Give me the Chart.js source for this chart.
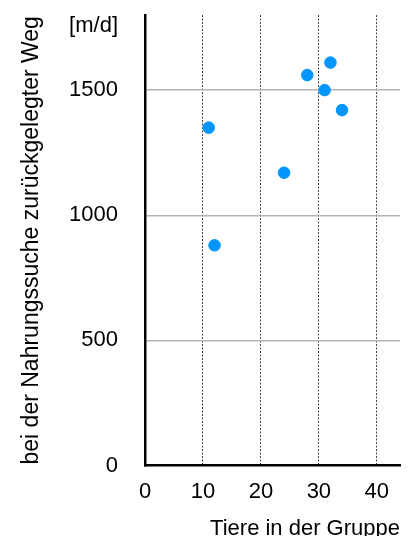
<!DOCTYPE html>
<html>
<head>
<meta charset="utf-8">
<script src="https://cdn.jsdelivr.net/npm/chart.js@4/dist/chart.umd.min.js"></script>
<style>
  html, body { margin: 0; padding: 0; background: #fff; }
  #wrap { width: 416px; height: 536px; }
</style>
</head>
<body>
<div id="wrap"><canvas id="chartWeg"></canvas></div>
<script>
const tiereInGruppe = [11, 12, 24, 28, 31, 32, 34];
const wegProTag = [1350, 880, 1170, 1560, 1500, 1610, 1420];
const xTicks = [0, 10, 20, 30, 40];
const yTicks = [0, 500, 1000, 1500];

const xTitle = 'Tiere in der Gruppe';
const yTitle = 'bei der Nahrungssuche zurückgelegter Weg';
const yUnit = '[m/d]';

const FONT = '"Liberation Sans", Arial, sans-serif';

// unit label above the y tick labels
const unitLabel = {
  id: 'unitLabel',
  afterDraw(chart) {
    const ctx = chart.ctx;
    ctx.save();
    ctx.font = '22px ' + FONT;
    ctx.fillStyle = '#000';
    ctx.textAlign = 'right';
    ctx.textBaseline = 'middle';
    ctx.fillText(yUnit, 118, 26);
    ctx.restore();
  }
};

const points = tiereInGruppe.map((x, i) => ({ x: x, y: wegProTag[i] }));

new Chart(document.getElementById('chartWeg'), {
  type: 'scatter',
  data: {
    datasets: [{
      data: points,
      backgroundColor: '#0496fc',
      borderColor: '#0496fc',
      pointRadius: 5.8,
      pointHoverRadius: 5.8
    }]
  },
  options: {
    responsive: true,
    maintainAspectRatio: false,
    animation: false,
    layout: { padding: { top: 15, right: 16, left: 18, bottom: -4 } },
    plugins: {
      legend: { display: false },
      tooltip: { enabled: false }
    },
    scales: {
      x: {
        type: 'linear',
        min: 0,
        max: 44,
        afterBuildTicks: scale => {
          scale.ticks = xTicks.map(v => ({ value: v }));
        },
        afterFit: scale => { scale.paddingRight = 0; },
        ticks: {
          color: '#000',
          font: { family: FONT, size: 22 },
          padding: 13,
          callback: v => String(v)
        },
        grid: {
          drawTicks: false,
          color: ctx => (ctx.tick && ctx.tick.value > 0 ? '#444' : 'rgba(0,0,0,0)'),
          lineWidth: 1
        },
        border: { display: true, color: '#000', width: 2.5, dash: [2, 1.5] },
        title: {
          display: true,
          text: xTitle,
          align: 'end',
          color: '#000',
          font: { family: FONT, size: 22, lineHeight: 1 },
          padding: { top: 0, bottom: 0 }
        }
      },
      y: {
        min: 0,
        max: 1800,
        afterBuildTicks: scale => {
          scale.ticks = yTicks.map(v => ({ value: v }));
        },
        afterFit: scale => {
          scale.width = 127;
          scale.paddingTop = 0;
          scale.paddingBottom = 0;
        },
        ticks: {
          color: '#000',
          font: { family: FONT, size: 22 },
          padding: 27,
          callback: v => String(v)
        },
        grid: {
          drawTicks: false,
          color: ctx => (ctx.tick && ctx.tick.value > 0 ? '#b4b4b4' : 'rgba(0,0,0,0)'),
          lineWidth: 1.5
        },
        border: { display: true, color: '#000', width: 2.5 },
        title: {
          display: true,
          text: yTitle,
          color: '#000',
          font: { family: FONT, size: 23 },
          padding: { top: 0, bottom: 0 }
        }
      }
    }
  },
  plugins: [unitLabel]
});
</script>
</body>
</html>
